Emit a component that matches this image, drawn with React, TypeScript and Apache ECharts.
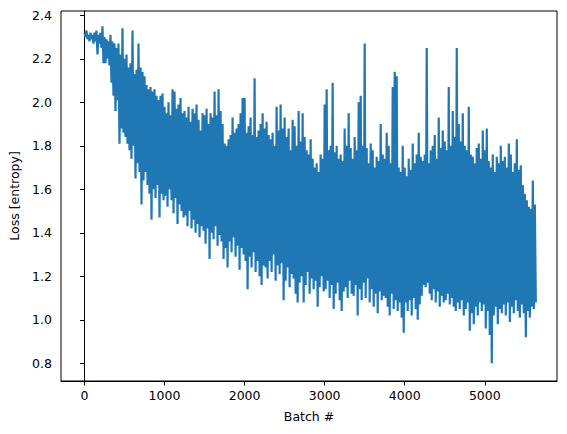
import React, { useEffect, useRef } from "react";
import * as echarts from "echarts";

// batches between consecutive points
const STEP = 12.5;

// local maxima of the loss curve, one per 25 batches
const peaks = [
  2.32, 2.33, 2.31, 2.32, 2.31, 2.32, 2.33, 2.31, 2.32, 2.35,
  2.30, 2.29, 2.28, 2.31, 2.28, 2.27, 2.25, 2.27, 2.22, 2.34,
  2.20, 2.22, 2.16, 2.18, 2.33, 2.13, 2.15, 2.27, 2.16, 2.14,
  2.12, 2.08, 2.06, 2.07, 2.05, 2.06, 2.03, 2.01, 2.03, 2.04,
  1.98, 1.95, 2.00, 1.94, 2.06, 2.05, 1.97, 1.99, 2.02, 1.95,
  1.96, 1.93, 1.98, 1.91, 1.97, 1.95, 1.99, 1.92, 1.87, 1.95,
  1.94, 1.97, 1.90, 1.95, 1.93, 2.05, 1.94, 2.06, 1.96, 1.90,
  1.81, 1.80, 1.83, 1.85, 1.93, 1.86, 1.88, 1.90, 1.95, 2.02,
  2.02, 1.86, 1.89, 1.93, 1.85, 2.11, 1.84, 1.87, 1.90, 1.95,
  1.88, 1.91, 1.85, 1.83, 1.86, 1.80, 1.98, 1.87, 1.99, 1.88,
  1.93, 1.84, 1.88, 1.78, 1.92, 1.89, 1.80, 1.96, 1.82, 1.95,
  1.84, 1.78, 1.76, 1.83, 1.74, 1.70, 1.72, 1.68, 1.76, 1.74,
  1.99, 2.06, 1.78, 1.80, 2.09, 1.77, 1.80, 1.74, 1.76, 1.73,
  1.88, 1.80, 1.95, 1.79, 1.74, 1.84, 1.78, 2.00, 2.03, 1.80,
  2.27, 1.79, 1.72, 1.81, 1.78, 1.70, 1.75, 1.73, 1.90, 1.76,
  1.74, 1.86, 1.80, 1.72, 2.07, 2.14, 2.12, 1.70, 1.68, 1.80,
  1.70, 1.66, 1.74, 1.69, 1.81, 1.72, 1.76, 1.86, 1.75, 1.73,
  1.76, 2.25, 1.72, 1.78, 1.80, 1.85, 1.74, 1.93, 1.79, 1.87,
  1.82, 1.78, 2.07, 1.80, 1.96, 1.84, 2.25, 1.90, 1.82, 1.95,
  1.80, 1.78, 1.98, 1.76, 1.75, 1.72, 1.79, 1.81, 1.74, 1.87,
  1.78, 1.88, 1.73, 1.70, 1.76, 1.68, 1.75, 1.72, 1.80, 1.73,
  1.75, 1.70, 1.81, 1.76, 1.68, 1.72, 1.83, 1.69, 1.71, 1.62,
  1.58, 1.55, 1.52, 1.51, 1.64, 1.53,
];

// local minima of the loss curve, one per 25 batches
const troughs = [
  2.30, 2.29, 2.28, 2.29, 2.27, 2.28, 2.22, 2.27, 2.25, 2.18,
  2.18, 2.20, 2.17, 2.09, 2.03, 1.96, 2.01, 1.81, 1.88, 1.86,
  1.84, 1.81, 1.78, 1.74, 1.80, 1.65, 1.72, 1.68, 1.53, 1.64,
  1.68, 1.62, 1.58, 1.46, 1.60, 1.56, 1.62, 1.47, 1.58, 1.55,
  1.57, 1.52, 1.60, 1.55, 1.49, 1.56, 1.44, 1.53, 1.50, 1.47,
  1.48, 1.43, 1.50, 1.42, 1.46, 1.40, 1.44, 1.38, 1.43, 1.41,
  1.35, 1.42, 1.28, 1.40, 1.37, 1.43, 1.34, 1.39, 1.36, 1.28,
  1.33, 1.24, 1.36, 1.31, 1.38, 1.29, 1.34, 1.23, 1.33, 1.30,
  1.27, 1.14, 1.29, 1.24, 1.31, 1.22, 1.27, 1.20, 1.16, 1.25,
  1.24, 1.19, 1.27, 1.22, 1.30, 1.18, 1.25, 1.21, 1.26, 1.09,
  1.18, 1.24, 1.15, 1.21, 1.19, 1.12, 1.08, 1.17, 1.20, 1.08,
  1.16, 1.22, 1.12, 1.19, 1.14, 1.18, 1.06, 1.15, 1.20, 1.13,
  1.14, 1.18, 1.10, 1.16, 1.05, 1.12, 1.17, 1.09, 1.04, 1.13,
  1.15, 1.10, 1.18, 1.12, 1.11, 1.16, 1.02, 1.14, 1.09, 1.17,
  1.10, 1.19, 1.08, 1.14, 1.06, 1.12, 1.03, 1.13, 1.09, 1.11,
  1.10, 1.06, 1.02, 1.12, 1.05, 1.09, 1.04, 1.08, 1.01, 0.94,
  1.08, 1.04, 1.09, 1.02, 1.10, 1.05, 1.00, 1.07, 1.11, 1.16,
  1.15, 1.17, 1.12, 1.09, 1.14, 1.08, 1.13, 1.06, 1.11, 1.08,
  1.09, 1.12, 1.07, 1.10, 1.06, 1.04, 1.08, 1.05, 1.09, 1.02,
  1.05, 1.08, 0.95, 1.03, 0.98, 1.06, 1.02, 1.08, 1.04, 1.07,
  0.96, 1.04, 0.93, 0.80, 1.02, 1.06, 0.98, 1.05, 1.03, 1.07,
  1.02, 1.08, 0.99, 1.06, 1.03, 1.09, 1.04, 1.01, 1.07, 1.03,
  0.92, 1.04, 1.01, 1.06, 1.05, 1.08,
];

const xTicks = [0, 1000, 2000, 3000, 4000, 5000];
const yTicks = [0.8, 1.0, 1.2, 1.4, 1.6, 1.8, 2.0, 2.2, 2.4];

const FONT = "DejaVu Sans";

export default function App() {
  const ref = useRef<HTMLDivElement>(null);

  useEffect(() => {
    if (!ref.current) return;
    const chart = echarts.init(ref.current, undefined, { renderer: "svg" });

    const loss: number[] = [];
    for (let k = 0; k < peaks.length; k++) {
      loss.push(peaks[k], troughs[k]);
    }
    const data = loss.map((v, i) => [i * STEP, v]);

    chart.setOption({
      animation: false,
      backgroundColor: "#ffffff",
      grid: {
        left: 61,
        right: 10,
        top: 11,
        bottom: 53,
        show: true,
        borderColor: "#000000",
        borderWidth: 1,
        backgroundColor: "transparent",
      },
      xAxis: {
        type: "value",
        min: -293,
        max: 5902,
        name: "Batch #",
        nameLocation: "middle",
        nameGap: 29,
        nameTextStyle: { fontFamily: FONT, fontSize: 12.5, color: "#000", verticalAlign: "top" },
        axisLine: { show: true, lineStyle: { color: "#000", width: 1 } },
        axisTick: {
          show: true,
          inside: false,
          length: 4.5,
          lineStyle: { color: "#000", width: 1 },
          customValues: xTicks,
        },
        axisLabel: {
          show: true,
          margin: 8,
          fontFamily: FONT,
          fontSize: 12.5,
          color: "#000",
          customValues: xTicks,
          formatter: (v: number) => String(Math.round(v)),
        },
        splitLine: { show: false },
      },
      yAxis: {
        type: "value",
        min: 0.7186,
        max: 2.4198,
        name: "Loss [entropy]",
        nameLocation: "middle",
        nameGap: 38,
        nameRotate: 90,
        nameTextStyle: { fontFamily: FONT, fontSize: 12.5, color: "#000" },
        axisLine: { show: true, lineStyle: { color: "#000", width: 1 } },
        axisTick: {
          show: true,
          inside: false,
          length: 4.5,
          lineStyle: { color: "#000", width: 1 },
          customValues: yTicks,
        },
        axisLabel: {
          show: true,
          margin: 9,
          fontFamily: FONT,
          fontSize: 12.5,
          color: "#000",
          customValues: yTicks,
          formatter: (v: number) => v.toFixed(1),
        },
        splitLine: { show: false },
      },
      series: [
        {
          type: "line",
          data,
          showSymbol: false,
          symbol: "none",
          lineStyle: { color: "#1f77b4", width: 2.2, join: "miter", miterLimit: 4 },
          itemStyle: { color: "#1f77b4" },
          clip: true,
          silent: true,
        },
      ],
    });

    return () => chart.dispose();
  }, []);

  return (
    <div
      ref={ref}
      style={{ position: "fixed", left: 0, top: 0, width: 567, height: 434 }}
    />
  );
}
